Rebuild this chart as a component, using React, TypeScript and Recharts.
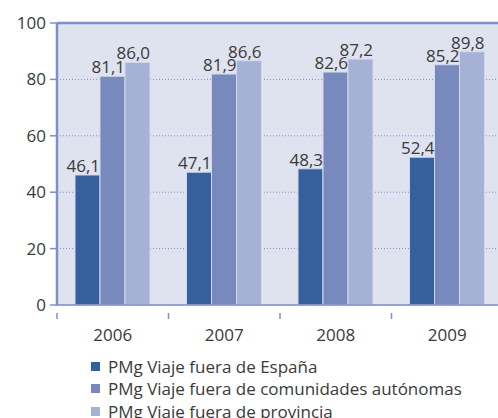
import { Bar, BarChart, CartesianGrid, LabelList, ReferenceLine, XAxis, YAxis } from "recharts";

const years = ["2006", "2007", "2008", "2009"];
const fueraEspana = [46.1, 47.1, 48.3, 52.4];
const fueraCCAA = [81.1, 81.9, 82.6, 85.2];
const fueraProvincia = [86.0, 86.6, 87.2, 89.8];
const yTicks = [0, 20, 40, 60, 80, 100];

const series = [
  { key: "espana", name: "PMg Viaje fuera de España", color: "#365f9e", values: fueraEspana },
  { key: "ccaa", name: "PMg Viaje fuera de comunidades autónomas", color: "#7889bd", values: fueraCCAA },
  { key: "prov", name: "PMg Viaje fuera de provincia", color: "#a5b2d6", values: fueraProvincia },
];

const data = years.map((year, i) => {
  const row: Record<string, string | number> = { year };
  series.forEach((s) => (row[s.key] = s.values[i]));
  return row;
});

const FONT = "'Open Sans', 'Noto Sans', sans-serif";
const TEXT = "#3a3a3a";
const AXIS = "#7f90c7";
const W = 506;
const H = 418;
const M = { top: 23, right: 3, bottom: 73, left: 0 };
const Y_W = 57;
const halfBand = (W - M.left - M.right - Y_W) / years.length / 2;

const fmt = (v: number) => v.toFixed(1).replace(".", ",");

function ValueLabel(props: any) {
  const { x, y, width, value } = props;
  return (
    <text x={Number(x) + Number(width)} y={Number(y) - 3} textAnchor="end" fontSize={17} fill={TEXT} fontFamily={FONT}>
      {fmt(Number(value))}
    </text>
  );
}

function YearTick(props: any) {
  const { x, y, payload } = props;
  return (
    <g>
      <line x1={x - halfBand} x2={x - halfBand} y1={y} y2={y + 6} stroke={AXIS} strokeWidth={1.5} />
      <text x={x} y={y + 28} textAnchor="middle" fontSize={17} fill={TEXT} fontFamily={FONT}>
        {payload.value}
      </text>
    </g>
  );
}

export default function App() {
  return (
    <div style={{ position: "absolute", left: 0, top: 0, width: 498, height: H, overflow: "hidden", background: "#fff" }}>
      <BarChart width={W} height={H} data={data} margin={M} barGap={0} barSize={25}>
        <CartesianGrid vertical={false} fill="#dfe2ef" stroke={AXIS} strokeDasharray="1 2" />
        <XAxis dataKey="year" height={40} tickLine={false} axisLine={{ stroke: AXIS, strokeWidth: 1.5 }} tick={<YearTick />} interval={0} />
        <YAxis
          width={Y_W}
          domain={[0, 100]}
          ticks={yTicks}
          tickSize={7}
          tickMargin={4}
          tickLine={{ stroke: AXIS, strokeWidth: 1.5 }}
          axisLine={{ stroke: AXIS, strokeWidth: 2.5 }}
          tick={{ fontSize: 17, fill: TEXT, fontFamily: FONT }}
        />
        <ReferenceLine y={100} stroke={AXIS} strokeWidth={2.5} />
        {series.map((s) => (
          <Bar key={s.key} dataKey={s.key} name={s.name} fill={s.color} stroke="#d3d9ec" strokeWidth={1} isAnimationActive={false}>
            <LabelList dataKey={s.key} content={<ValueLabel />} />
          </Bar>
        ))}
      </BarChart>
      <div style={{ position: "absolute", left: 91, top: 355, fontFamily: FONT, fontSize: 17, color: TEXT }}>
        {series.map((s) => (
          <div key={s.key} style={{ display: "flex", alignItems: "center", height: 22.5 }}>
            <span style={{ width: 9, height: 9, background: s.color, marginRight: 8, display: "inline-block" }} />
            <span>{s.name}</span>
          </div>
        ))}
      </div>
    </div>
  );
}
